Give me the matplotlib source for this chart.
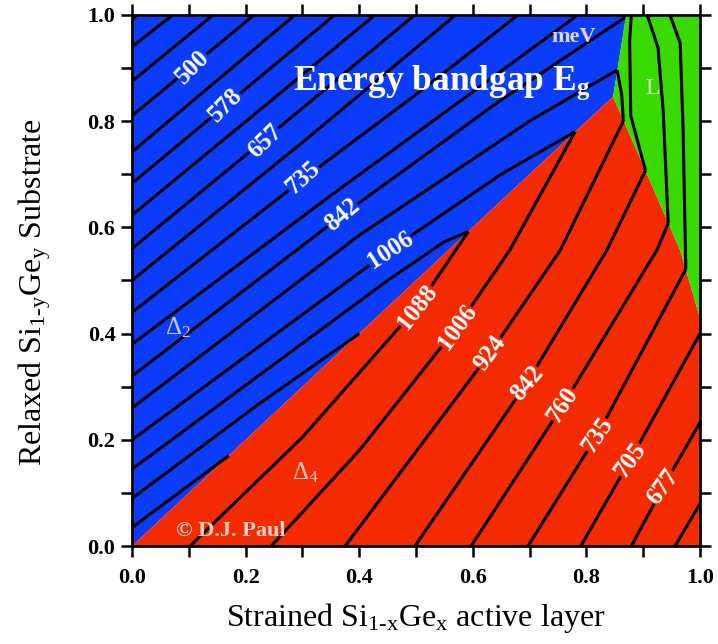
import matplotlib.pyplot as plt
from matplotlib.patches import Polygon

plt.rcParams['font.family'] = ['Liberation Serif', 'DejaVu Serif']
plt.rcParams['mathtext.fontset'] = 'custom'
plt.rcParams['mathtext.rm'] = 'Liberation Serif'
plt.rcParams['mathtext.it'] = 'Liberation Serif:italic'
plt.rcParams['mathtext.bf'] = 'Liberation Serif:bold'

# valley regions (x: strained layer Ge, y: substrate Ge)
delta2_region = [(0, 0), (0, 1), (0.870, 1), (0.847, 0.846), (0.70, 0.70), (0.592, 0.592)]
delta4_region = [(0, 0), (1, 0), (1, 0.429), (0.965, 0.557), (0.847, 0.846), (0.70, 0.70), (0.592, 0.592)]
l_region = [(0.870, 1), (1, 1), (1, 0.429), (0.965, 0.557), (0.847, 0.846)]

# constant-bandgap lines, Delta2 side
blue_lines = [
    [(0, 0.99), (0.008, 1)],
    [(0, 0.94), (0.072, 1)],
    [(0, 0.875), (0.143, 1)],
    [(0, 0.81), (0.215, 1)],
    [(0, 0.742), (0.287, 1)],
    [(0, 0.683), (0.357, 1)],
    [(0, 0.623), (0.428, 1)],
    [(0, 0.56), (0.25, 0.78), (0.498, 1)],
    [(0, 0.50), (0.30, 0.76), (0.57, 1)],
    [(0, 0.44), (0.30, 0.69), (0.50, 0.85), (0.68, 1)],
    [(0, 0.38), (0.35, 0.66), (0.60, 0.855), (0.785, 1)],
    [(0, 0.32), (0.37, 0.623), (0.65, 0.84), (0.868, 0.995)],
    [(0, 0.26), (0.40, 0.585), (0.70, 0.80), (0.854, 0.896)],
    [(0, 0.20), (0.454, 0.557), (0.65, 0.70), (0.78, 0.78)],
    [(0, 0.145), (0.45, 0.50), (0.55, 0.573), (0.585, 0.589), (0.592, 0.592)],
    [(0, 0.09), (0.22, 0.265), (0.40, 0.40)],
    [(0, 0.035), (0.17, 0.17)],
]

# Delta4 side
red_lines = [
    [(0.102, 0), (0.30, 0.205), (0.502, 0.45), (0.592, 0.592)],
    [(0.245, 0), (0.40, 0.18), (0.572, 0.412), (0.665, 0.557), (0.78, 0.78)],
    [(0.375, 0), (0.630, 0.363), (0.754, 0.557), (0.865, 0.80)],
    [(0.498, 0), (0.695, 0.307), (0.836, 0.557), (0.904, 0.707)],
    [(0.597, 0), (0.759, 0.266), (0.924, 0.557), (0.944, 0.607)],
    [(0.697, 0), (0.819, 0.209), (0.975, 0.521)],
    [(0.790, 0), (0.877, 0.162), (1.0, 0.40)],
    [(0.879, 0), (0.935, 0.111), (1.0, 0.233)],
    [(0.956, 0), (1.0, 0.08)],
]

# L side
green_lines = [
    [(0.854, 0.896), (0.862, 0.85), (0.865, 0.80)],
    [(0.879, 1), (0.876, 0.95), (0.878, 0.81), (0.904, 0.707)],
    [(0.907, 1), (0.926, 0.938), (0.935, 0.821), (0.944, 0.607)],
    [(0.947, 1), (0.965, 0.947), (0.970, 0.789), (0.975, 0.521)],
]

label_text = ['500', '578', '657', '735', '842', '1006',
              '1088', '1006', '924', '842', '760', '735', '705', '677']
label_x = [0.107, 0.164, 0.234, 0.301, 0.370, 0.454,
           0.502, 0.572, 0.630, 0.695, 0.759, 0.819, 0.877, 0.935]
label_y = [0.902, 0.830, 0.761, 0.693, 0.623, 0.557,
           0.450, 0.412, 0.363, 0.307, 0.266, 0.209, 0.162, 0.111]
label_rot = [45, 45, 44, 42, 40, 33, 52, 54, 54, 50, 56, 56, 54, 54]

blue = '#0b3cfb'
red = '#f42a00'
green = '#38da00'

fig = plt.figure(figsize=(7.18, 6.44), dpi=100)
ax = fig.add_axes([0.184, 0.152, 0.791, 0.825])

for pts, col in [(delta2_region, blue), (delta4_region, red), (l_region, green)]:
    ax.add_patch(Polygon(pts, closed=True, facecolor=col, edgecolor='none', zorder=1))

for line in blue_lines + red_lines + green_lines:
    xs = [p[0] for p in line]
    ys = [p[1] for p in line]
    ax.plot(xs, ys, color='black', lw=2.2, solid_capstyle='butt', zorder=2)

for i in range(len(label_text)):
    bg = blue if i < 6 else red
    ax.text(label_x[i], label_y[i], label_text[i], color='white', fontsize=18,
            fontweight='bold', rotation=label_rot[i], ha='center', va='center',
            rotation_mode='anchor', zorder=3,
            bbox=dict(boxstyle='square,pad=0', fc=bg, ec='none'))

ax.text(0.283, 0.872, r'Energy bandgap E$_{\mathbf{g}}$', color='white', fontsize=25.5,
        fontweight='bold', ha='left', va='center', zorder=4)
ax.text(0.778, 0.959, 'meV', color='#d8d8f4', fontsize=16, fontweight='bold',
        ha='center', va='center', zorder=4)
ax.text(0.917, 0.862, 'L', color='#d0ecc8', fontsize=17, ha='center', va='center', zorder=4)
ax.text(0.081, 0.412, r'$\Delta_2$', color='#c8c8ff', fontsize=18, ha='center', va='center', zorder=4)
ax.text(0.305, 0.139, r'$\Delta_4$', color='#ffc8b8', fontsize=18, ha='center', va='center', zorder=4)
ax.text(0.174, 0.028, '\u00a9 D.J. Paul', color='#f4cfc4', fontsize=16, fontweight='bold',
        ha='center', va='center', zorder=4)

ax.set_xlim(0, 1)
ax.set_ylim(0, 1)
ax.set_xticks([0, 0.2, 0.4, 0.6, 0.8, 1.0])
ax.set_yticks([0, 0.2, 0.4, 0.6, 0.8, 1.0])
ax.set_xticks([0.1, 0.3, 0.5, 0.7, 0.9], minor=True)
ax.set_yticks([0.1, 0.3, 0.5, 0.7, 0.9], minor=True)
ax.tick_params(which='both', direction='out', length=8, width=1.8,
               top=True, right=True, labelsize=16)
ax.tick_params(axis='x', pad=8)
ax.tick_params(axis='y', pad=4)
for lab in ax.get_xticklabels() + ax.get_yticklabels():
    lab.set_fontweight('bold')
for sp in ax.spines.values():
    sp.set_linewidth(2)
    sp.set_zorder(5)

ax.set_xlabel(r'Strained Si$_{\text{1-x}}$Ge$_{\text{x}}$ active layer', fontsize=23, labelpad=9)
ax.set_ylabel(r'Relaxed Si$_{\text{1-y}}$Ge$_{\text{y}}$ Substrate', fontsize=23)
ax.yaxis.set_label_coords(-0.14, 0.478)

fig.savefig('out.png', dpi=100)
